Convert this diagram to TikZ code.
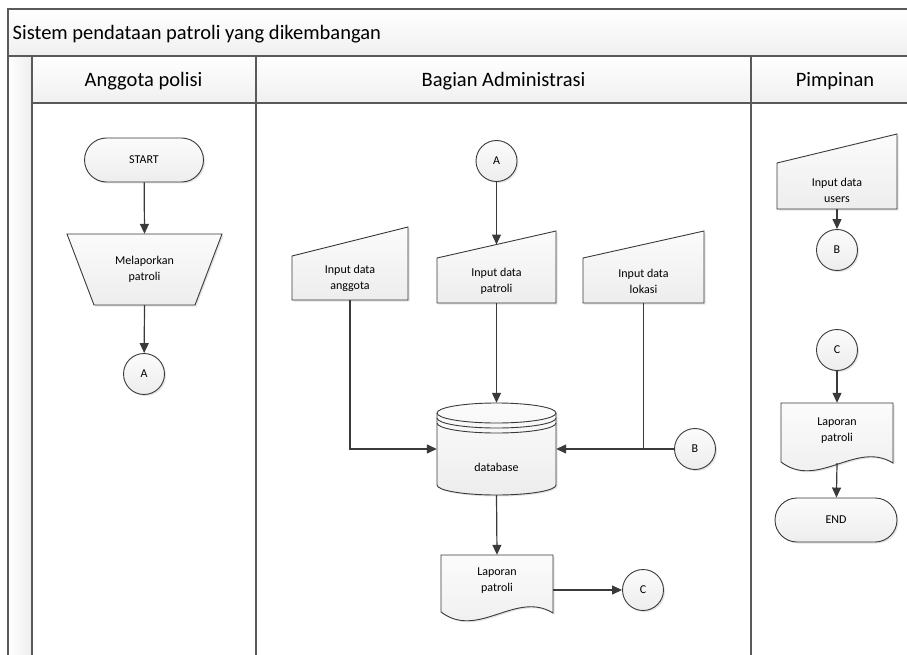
\documentclass[tikz,border=0pt]{standalone}
\usepackage{fontspec}
\setmainfont{Carlito}
\usetikzlibrary{arrows.meta,shapes.misc,shadows,calc}

\definecolor{edge}{HTML}{3A3A3A}
\definecolor{frame}{HTML}{5A5A5A}

\tikzset{
  shp/.style={draw=edge, line width=0.9pt, top color=gray!3, bottom color=gray!14,
    drop shadow={shadow xshift=1.5pt, shadow yshift=-1.5pt, opacity=0.22}},
  lbl/.style={font=\fontsize{12}{16}\selectfont, align=center, text=black, inner sep=0pt},
  term/.style={shp, lbl, rounded rectangle, minimum height=44pt},
  conn/.style={shp, lbl, circle, minimum size=41pt},
  hole/.style={lbl, draw=none, rectangle},
  arr/.style={draw=edge, line width=1.2pt, -{Triangle[length=10pt,width=9pt]}},
  wire/.style={draw=edge, line width=1.2pt},
  lane/.style={draw=frame, line width=1.6pt},
  head/.style={font=\fontsize{20.5}{24}\selectfont, text=black, inner sep=0pt}
}

\begin{document}
\begin{tikzpicture}[x=1pt, y=-1pt]
\useasboundingbox (0,0) rectangle (907,655);
\clip (0,0) rectangle (907,655);

% swimlane frame
\shade[top color=white, bottom color=gray!12] (8,9) rectangle (920,56);
\shade[top color=white, bottom color=gray!12] (32,56) rectangle (920,103);
\shade[left color=white, right color=gray!14] (8,56) rectangle (32,660);
\draw[lane] (920,9) -- (8,9) -- (8,660);
\draw[lane] (8,56) -- (920,56);
\draw[lane] (32,103) -- (920,103);
\draw[lane] (32,56) -- (32,660);
\draw[lane] (256,56) -- (256,660);
\draw[lane] (751,56) -- (751,660);

\node[head, anchor=base west] (title) at (12.5,40) {Sistem pendataan patroli yang dikembangan};
\node[head, anchor=base] (hAng) at (143.5,87) {Anggota polisi};
\node[head, anchor=base] (hAdm) at (503.5,87) {Bagian Administrasi};
\node[head, anchor=base] (hPim) at (835,87) {Pimpinan};

% lane: Anggota polisi
\node[term, minimum width=119pt] (start) at (144,160) {START};
\path[shp] (67,234) -- (222,234) -- (195,305) -- (94,305) -- cycle;
\node[hole, minimum width=101pt, minimum height=71pt] (lapor) at (144.5,269.5) {Melaporkan\\patroli};
\node[conn] (cA1) at (144,374) {A};

\draw[arr] (start) -- (lapor.north);
\draw[arr] (lapor.south) -- (cA1);

% lane: Bagian Administrasi
\node[conn] (cA2) at (496.5,161) {A};

\path[shp] (292,256) -- (408,227) -- (408,300) -- (292,300) -- cycle;
\node[hole, minimum width=116pt, minimum height=44pt] (inAng) at (350,278) {Input data\\anggota};

\path[shp] (437,258) -- (556,231) -- (556,303) -- (437,303) -- cycle;
\node[hole, minimum width=119pt, minimum height=44pt] (inPat) at (496.5,281) {Input data\\patroli};
\coordinate (patTop) at (496.5,244.5);

\path[shp] (583,258) -- (704,231) -- (704,303) -- (583,303) -- cycle;
\node[hole, minimum width=121pt, minimum height=44pt] (inLok) at (643.5,281) {Input data\\lokasi};

% database cylinder
\path[shp] (437,413) -- (437,485)
  arc[start angle=180, end angle=360, x radius=59.5pt, y radius=10pt]
  -- (556,413)
  arc[start angle=0, end angle=180, x radius=59.5pt, y radius=10pt] -- cycle;
\draw[draw=edge, line width=0.9pt] (437,413) arc[start angle=180, end angle=360, x radius=59.5pt, y radius=10pt];
\draw[draw=edge, line width=0.9pt] (437,418) arc[start angle=180, end angle=360, x radius=59.5pt, y radius=10pt];
\draw[draw=edge, line width=0.9pt] (437,423) arc[start angle=180, end angle=360, x radius=59.5pt, y radius=10pt];
\node[hole, minimum width=119pt, minimum height=92pt,
  label={[lbl, yshift=-18pt]center:database}] (db) at (496.5,449) {};

\node[conn] (cB2) at (695,449) {B};

% report document
\path[shp] (441,555) -- (553,555) -- (553,613)
  .. controls (516,590) and (478,640) .. (441,612) -- cycle;
\node[hole, minimum width=112pt, minimum height=57pt,
  label={[lbl, yshift=2.5pt]center:{Laporan\\patroli}}] (lapA) at (497,583.5) {};
\node[conn] (cC2) at (643,590) {C};

\draw[arr] (cA2) -- (patTop);
\draw[arr] (inPat.south) -- (db.north);
\draw[arr] (inAng.south) |- (db.west);
\draw[arr] (inLok.south) |- (db.east);
\draw[wire] (cB2.west) -- (inLok.south |- db.east);
\draw[arr] (db.south) -- (lapA.north);
\draw[arr] (lapA.east |- cC2) -- (cC2);

% lane: Pimpinan
\path[shp] (777,163) -- (897,134) -- (897,209) -- (777,209) -- cycle;
\node[hole, minimum width=120pt, minimum height=38pt] (inUsr) at (837,190) {Input data\\users};
\node[conn] (cB1) at (837,250) {B};
\node[conn] (cC1) at (837,350) {C};

\path[shp] (781,403) -- (893,403) -- (893,463)
  .. controls (856,440) and (818,490) .. (781,462) -- cycle;
\node[hole, minimum width=112pt, minimum height=60pt,
  label={[lbl, yshift=2.5pt]center:{Laporan\\patroli}}] (lapP) at (837,433) {};
\node[term, minimum width=122pt] (fin) at (836,520) {END};

\draw[arr] (inUsr.south) -- (cB1);
\draw[arr] (cC1) -- (lapP.north);
\draw[arr] (lapP.south) -- (fin);
\end{tikzpicture}
\end{document}
